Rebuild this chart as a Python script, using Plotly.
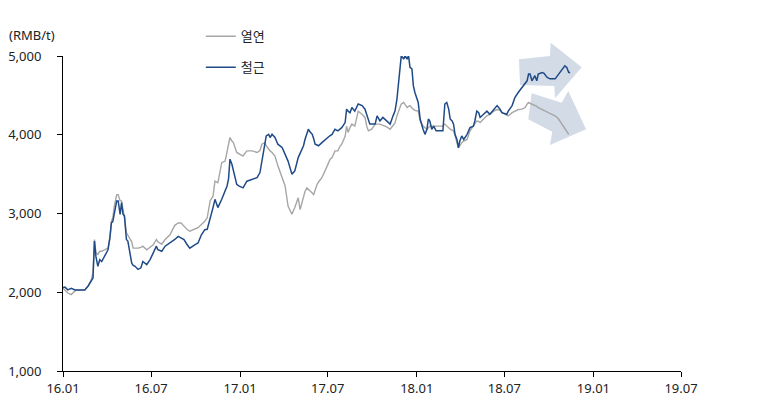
import plotly.graph_objects as go

# Dates (shared) and prices in RMB/t
dates = [
    "2016-01-01", "2016-01-05", "2016-01-11", "2016-01-18", "2016-01-26", "2016-02-05", "2016-02-15",
    "2016-02-22", "2016-02-28", "2016-03-03", "2016-03-06", "2016-03-09", "2016-03-13", "2016-03-17",
    "2016-03-21", "2016-03-28", "2016-04-03", "2016-04-07", "2016-04-10", "2016-04-13", "2016-04-16",
    "2016-04-21", "2016-04-24", "2016-04-28", "2016-05-01", "2016-05-04", "2016-05-07", "2016-05-11",
    "2016-05-14", "2016-05-18", "2016-05-22", "2016-05-25", "2016-05-29", "2016-06-04", "2016-06-10",
    "2016-06-14", "2016-06-22", "2016-06-29", "2016-07-05", "2016-07-12", "2016-07-15", "2016-07-23",
    "2016-07-30", "2016-08-09", "2016-08-19", "2016-08-26", "2016-09-01", "2016-09-07", "2016-09-13",
    "2016-09-19", "2016-09-30", "2016-10-06", "2016-10-13", "2016-10-20", "2016-10-25", "2016-10-31",
    "2016-11-06", "2016-11-10", "2016-11-16", "2016-11-24", "2016-12-01", "2016-12-05", "2016-12-08",
    "2016-12-11", "2016-12-15", "2016-12-18", "2016-12-25", "2016-12-29", "2017-01-07", "2017-01-15",
    "2017-01-26", "2017-02-05", "2017-02-11", "2017-02-15", "2017-02-18", "2017-02-21", "2017-02-24",
    "2017-03-01", "2017-03-04", "2017-03-08", "2017-03-14", "2017-03-20", "2017-03-29", "2017-04-04",
    "2017-04-10", "2017-04-18", "2017-04-24", "2017-05-01", "2017-05-05", "2017-05-09", "2017-05-12",
    "2017-05-15", "2017-05-19", "2017-05-22", "2017-05-25", "2017-05-30", "2017-06-02", "2017-06-05",
    "2017-06-09", "2017-06-12", "2017-06-19", "2017-06-30", "2017-07-06", "2017-07-10", "2017-07-16",
    "2017-07-22", "2017-07-26", "2017-07-30", "2017-08-06", "2017-08-09", "2017-08-12", "2017-08-16",
    "2017-08-20", "2017-08-26", "2017-09-02", "2017-09-10", "2017-09-16", "2017-09-20", "2017-09-23",
    "2017-09-26", "2017-09-30", "2017-10-07", "2017-10-11", "2017-10-17", "2017-10-23", "2017-10-31",
    "2017-11-07", "2017-11-13", "2017-11-17", "2017-11-21", "2017-11-24", "2017-11-27", "2017-11-30",
    "2017-12-05", "2017-12-08", "2017-12-12", "2017-12-15", "2017-12-18", "2017-12-22", "2017-12-25",
    "2017-12-28", "2018-01-04", "2018-01-08", "2018-01-14", "2018-01-18", "2018-01-22", "2018-01-25",
    "2018-01-28", "2018-02-01", "2018-02-05", "2018-02-10", "2018-02-24", "2018-02-28", "2018-03-04",
    "2018-03-08", "2018-03-11", "2018-03-15", "2018-03-18", "2018-03-21", "2018-03-25", "2018-03-28",
    "2018-03-31", "2018-04-04", "2018-04-08", "2018-04-15", "2018-04-21", "2018-04-28", "2018-05-01",
    "2018-05-05", "2018-05-09", "2018-05-12", "2018-05-19", "2018-05-26", "2018-06-01", "2018-06-09",
    "2018-06-16", "2018-06-22", "2018-06-26", "2018-07-06", "2018-07-09", "2018-07-17", "2018-07-23",
    "2018-07-30", "2018-08-06", "2018-08-13", "2018-08-17", "2018-08-20", "2018-08-23", "2018-08-27",
    "2018-09-02", "2018-09-06", "2018-09-09", "2018-09-17", "2018-09-21", "2018-09-27", "2018-10-03",
    "2018-10-14", "2018-10-21", "2018-10-28", "2018-11-03", "2018-11-07", "2018-11-11", "2018-11-14",
]

# 열연 (hot-rolled coil)
hrc = [
    2050, 2020, 1990, 1970, 2020, 2030, 2030,
    2080, 2150, 2250, 2670, 2500, 2480, 2520,
    2520, 2540, 2560, 2680, 2900, 2950, 3095,
    3240, 3240, 3160, 3160, 3050, 2950, 2755,
    2720, 2690, 2640, 2560, 2560, 2560, 2570,
    2585, 2540, 2570, 2600, 2670, 2640, 2610,
    2670, 2730, 2850, 2880, 2880, 2840, 2800,
    2775, 2800, 2820, 2860, 2900, 2945, 3160,
    3220, 3410, 3390, 3645, 3665, 3775, 3850,
    3965, 3920, 3900, 3775, 3760, 3730, 3795,
    3795, 3775, 3800, 3880, 3890, 3900, 3860,
    3815, 3795, 3775, 3730, 3605, 3455, 3350,
    3095, 2990, 3075, 3200, 3050, 3150, 3220,
    3280, 3325, 3310, 3285, 3260, 3240, 3300,
    3370, 3400, 3455, 3605, 3690, 3710, 3795,
    3795, 3850, 3880, 3980, 4110, 4030, 4090,
    4135, 4110, 4300, 4260, 4220, 4100, 4050,
    4060, 4070, 4135, 4135, 4135, 4120, 4100,
    4070, 4110, 4150, 4240, 4300, 4350, 4390,
    4410, 4380, 4345, 4360, 4370, 4340, 4325,
    4310, 4300, 4175, 4110, 4090, 4070, 4090,
    4110, 4110, 4110, 4110, 4110, 4135, 4110,
    4090, 4070, 4060, 4050, 3990, 3900, 3835,
    3860, 3900, 3920, 3940, 4050, 4110, 4150,
    4175, 4170, 4155, 4200, 4240, 4260, 4300,
    4320, 4310, 4280, 4250, 4240, 4280, 4300,
    4320, 4325, 4345, 4390, 4410, 4400, 4390,
    4370, 4360, 4345, 4325, 4310, 4290, 4270,
    4240, 4200, 4135, 4090, 4050, 4005, None,
]

# 철근 (rebar)
rebar = [
    2060, 2065, 2030, 2050, 2030, 2030, 2030,
    2080, 2140, 2180, 2650, 2455, 2330, 2415,
    2390, 2480, 2540, 2700, 2880, 2900, 3010,
    3160, 3160, 2990, 3140, 2990, 2970, 2670,
    2650, 2520, 2370, 2340, 2330, 2290, 2310,
    2390, 2350, 2415, 2500, 2585, 2540, 2520,
    2585, 2625, 2670, 2710, 2690, 2670, 2610,
    2560, 2605, 2625, 2730, 2795, 2800, 2925,
    3075, 3180, 3075, 3180, 3305, 3350, 3435,
    3690, 3625, 3540, 3370, 3350, 3325, 3410,
    3435, 3455, 3520, 3690, 3775, 3880, 3985,
    4005, 3965, 4005, 3965, 3880, 3835, 3750,
    3665, 3500, 3540, 3710, 3760, 3815, 3860,
    3940, 4000, 4070, 4040, 4005, 3950, 3880,
    3870, 3860, 3900, 3965, 3990, 4005, 4070,
    4050, 4070, 4090, 4155, 4325, 4300, 4280,
    4345, 4300, 4390, 4370, 4325, 4240, 4200,
    4135, 4135, 4135, 4240, 4175, 4220, 4175,
    4135, 4240, 4300, 4450, 4665, 4835, 5005,
    4960, 5005, 4960, 5005, 4855, 4835, 4620,
    4540, 4410, 4200, 4070, 4005, 4070, 4200,
    4175, 4070, 4110, 4050, 4050, 4390, 4410,
    4325, 4200, 4175, 4135, 4005, 3940, 3835,
    3920, 3985, 3940, 4005, 4090, 4110, 4175,
    4300, 4280, 4220, 4260, 4300, 4260, 4325,
    4370, 4325, 4280, 4260, 4300, 4370, 4475,
    4540, 4600, 4645, 4685, 4770, 4770, 4685,
    4750, 4685, 4770, 4790, 4780, 4730, 4710,
    4710, 4770, 4835, 4875, 4855, 4790, 4790,
]

series_names = ["열연", "철근"]
series_colors = ["#A6A6A6", "#1F4A87"]
y_ticks = [1000, 2000, 3000, 4000, 5000]
unit_label = "(RMB/t)"

FONT = "Noto Sans, Noto Sans CJK KR"

fig = go.Figure()
for name, vals, color, width in [(series_names[0], hrc, series_colors[0], 1.4),
                                 (series_names[1], rebar, series_colors[1], 1.5)]:
    fig.add_trace(go.Scatter(
        x=dates, y=vals, name=name, mode="lines",
        line=dict(color=color, width=width),
        legendgroup=name, connectgaps=False,
    ))

# Decorative trend arrows (paper coordinates)
arrow_fill = "#D3DBE6"
up_arrow = [(0.7395, 0.9079), (0.7379, 0.9895), (0.7880, 1.0000), (0.7892, 1.0422),
            (0.8393, 0.9641), (0.7961, 0.8657), (0.7950, 0.9048)]
down_arrow = [(0.7584, 0.8816), (0.8070, 0.8517), (0.8176, 0.8889), (0.8463, 0.7673),
              (0.7880, 0.7175), (0.7917, 0.7597), (0.7529, 0.7990)]
for poly in (up_arrow, down_arrow):
    path = "M " + " L ".join(f"{px},{py}" for px, py in poly) + " Z"
    fig.add_shape(type="path", path=path, xref="paper", yref="paper",
                  fillcolor=arrow_fill, line=dict(width=0), layer="below")

fig.add_annotation(text=unit_label, xref="paper", yref="paper", x=-0.090, y=1.067,
                   xanchor="left", yanchor="middle", showarrow=False,
                   font=dict(family=FONT, size=13, color="#222222"))

fig.update_layout(
    width=758, height=405,
    margin=dict(l=55, r=85, t=48, b=42, autoexpand=False),
    paper_bgcolor="white", plot_bgcolor="white",
    font=dict(family=FONT, size=13, color="#222222"),
    showlegend=True,
    legend=dict(x=0.223, y=1.11, xanchor="left", yanchor="top",
                traceorder="grouped", tracegroupgap=11,
                bgcolor="rgba(0,0,0,0)", font=dict(family=FONT, size=13)),
    xaxis=dict(
        type="date", range=["2016-01-01", "2019-07-01"],
        tick0="2016-01-01", dtick="M6", tickformat="%y.%m",
        showgrid=False, zeroline=False, showline=True, linecolor="#000000", linewidth=1,
        ticks="outside", ticklen=5, tickcolor="#000000", automargin=False,
        tickfont=dict(family=FONT, size=13),
    ),
    yaxis=dict(
        range=[1000, 5000], tickvals=y_ticks, tickformat=",",
        showgrid=False, zeroline=False, showline=True, linecolor="#000000", linewidth=1,
        ticks="outside", ticklen=5, tickcolor="#000000", automargin=False,
        ticklabelstandoff=13,
        tickfont=dict(family=FONT, size=13),
    ),
)

fig.write_html("out.html")
